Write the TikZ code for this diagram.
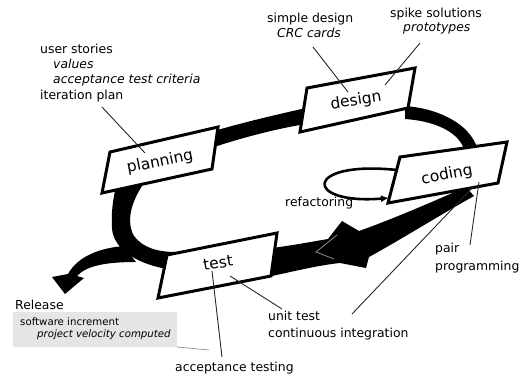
\documentclass[tikz,border=0pt]{standalone}
\usepackage{fontspec}
\setmainfont{DejaVu Sans}
\usetikzlibrary{arrows.meta}
\begin{document}
\begin{tikzpicture}[x=1pt,y=-1pt,
  band/.style={fill=black},
  stagebox/.style={draw=black, line width=3pt, fill=white, line join=miter},
  stagelabel/.style={font=\fontsize{15.5}{18}\selectfont, inner sep=0pt},
  note/.style={font=\fontsize{12.4}{14}\selectfont, anchor=base west, inner sep=0pt},
  notei/.style={note, font=\fontsize{12.4}{14}\selectfont\itshape},
  smallnote/.style={font=\fontsize{10.2}{12}\selectfont, anchor=base west, inner sep=0pt},
  smallnotei/.style={smallnote, font=\fontsize{10.2}{12}\selectfont\itshape},
  leader/.style={draw=black!85, line width=0.9pt},
  faint/.style={draw=black!40, line width=0.8pt},
]
\useasboundingbox (0,0) rectangle (520,376);

% ---- release box background
\fill[black!10] (13,312) rectangle (177,347);

% ---- thick cycle band
\fill[band] (214,131) .. controls (245,122) and (275,115) .. (306,108) -- (306,124) .. controls (275,129) and (245,137) .. (214,147) -- cycle;
\fill[band] (405,106) .. controls (435,108) and (470,122) .. (478,150) -- (465,152) .. controls (460,132) and (435,121) .. (405,119) -- cycle;
\fill[band] (466,187) .. controls (430,203) and (390,220) .. (359,231) -- (342,221) -- (328,239) .. controls (310,242) and (295,245) .. (272,248) -- (272,276) .. controls (295,271) and (320,265) .. (340,263) -- (366,268) -- (369,257) .. controls (400,240) and (440,215) .. (474,196) -- cycle;
\fill[band] (174,270) .. controls (140,266) and (113,250) .. (112,228) .. controls (111,212) and (113,200) .. (116,186) -- (142,186) .. controls (131,203) and (126,222) .. (134,236) .. controls (143,248) and (158,252) .. (176,252) -- cycle;
\fill[band] (124,246) .. controls (100,248) and (78,256) .. (68,274) -- (52,277) -- (65,294) -- (84,278) -- (77,276) .. controls (86,266) and (105,262) .. (136,262) -- cycle;
\draw[faint, draw=black!45] (337,235) -- (316,252) -- (334,259);

% ---- stage boxes
\draw[stagebox] (110,152) -- (218,127) -- (212,169) -- (102,193) -- cycle;
\draw[stagebox] (307,88) -- (415,68) -- (408,108) -- (300,132) -- cycle;
\draw[stagebox] (400,157) -- (507,142) -- (498,183) -- (388,203) -- cycle;
\draw[stagebox] (167,255) -- (277,233) -- (271,276) -- (158,298) -- cycle;

\node[stagelabel, rotate=11.5] (planning) at (160,162) {planning};
\node[stagelabel, rotate=9] (design) at (356,101) {design};
\node[stagelabel, rotate=11] (coding) at (447,175) {coding};
\node[stagelabel, rotate=9] (test) at (218,263) {test};

% ---- refactoring loop
\coordinate (loopA) at (397,170);
\coordinate (loopB) at (389,198);
\draw[line width=2.6pt, -{Latex[length=8pt,width=7pt]}] (loopA) .. controls (303,160) and (303,205) .. (loopB);
\node[note] (refac) at (285,206) {refactoring};

% ---- notes
\node[note] (us) at (40,53) {user stories};
\node[notei] (val) at (53,68) {values};
\node[notei] (atc) at (53,83) {acceptance test criteria};
\node[note] (ip) at (40,99) {iteration plan};

\node[note] (sd) at (267,22.5) {simple design};
\node[notei] (crc) at (277,37) {CRC cards};
\node[note] (ss) at (390,17) {spike solutions};
\node[notei] (proto) at (403,31) {prototypes};

\node[note] (pair) at (435,252.5) {pair};
\node[note] (prog) at (435,270) {programming};
\node[note] (ut) at (268,320.5) {unit test};
\node[note] (ci) at (268,337) {continuous integration};
\node[note] (at) at (175,371.5) {acceptance testing};

\node[note] (rel) at (15,309) {Release};
\node[smallnote] (si) at (20,325.5) {software increment};
\node[smallnotei] (pv) at (37,337) {project velocity computed};

% ---- leader lines
\coordinate (ipA) at (102,107); \coordinate (ipB) at (145,153);
\coordinate (sdA) at (313,47);  \coordinate (sdB) at (348,92);
\coordinate (ssA) at (420,43);  \coordinate (ssB) at (385,85);
\coordinate (pA) at (479,182);  \coordinate (pB) at (470,245);
\coordinate (cA) at (474,186);  \coordinate (cB) at (352,314);
\coordinate (uA) at (230,276);  \coordinate (uB) at (282,309);
\coordinate (aA) at (212,271);  \coordinate (aB) at (222,357);
\coordinate (rA) at (177,347);  \coordinate (rB) at (209,350);
\draw[leader] (ipA) -- (ipB);
\draw[leader] (sdA) -- (sdB);
\draw[leader] (ssA) -- (ssB);
\draw[leader] (pA) -- (pB);
\draw[leader] (cA) -- (cB);
\draw[leader] (uA) -- (uB);
\draw[leader] (aA) -- (aB);
\draw[faint] (rA) -- (rB);
\end{tikzpicture}
\end{document}
